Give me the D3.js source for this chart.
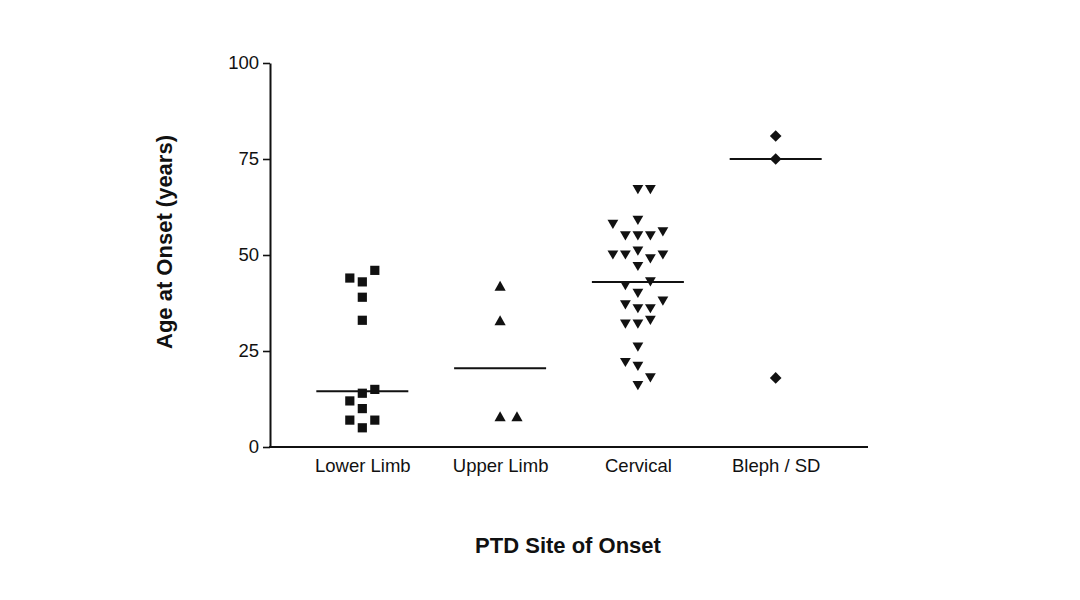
<!DOCTYPE html>
<html>
<head>
<meta charset="utf-8">
<script src="https://cdn.jsdelivr.net/npm/d3@7"></script>
<style>
  html, body { margin: 0; padding: 0; background: #fff; }
  svg { display: block; font-family: "Liberation Sans", Arial, sans-serif; }
</style>
</head>
<body>
<svg id="chart" width="1080" height="600"></svg>
<script>
// ---- data ----
const categories = ["Lower Limb", "Upper Limb", "Cervical", "Bleph / SD"];
const yTicks = [0, 25, 50, 75, 100];

// ages at onset per group, with column slot used for the scatter spread
const lowerLimbAges  = [46, 44, 43, 39, 33, 15, 14, 12, 10, 7, 7, 5];
const lowerLimbSlots = [ 1, -1,  0,  0,  0,  1,  0, -1,  0, -1, 1, 0];

const upperLimbAges  = [42, 33, 8, 8];
const upperLimbSlots = [ 0,  0, 0, 1.35];

const cervicalAges  = [67, 67, 58, 59, 55, 55, 55, 56, 50, 50, 51, 49, 50, 47, 43, 42, 40, 37, 36, 36, 38, 32, 32, 33, 26, 22, 21, 18, 16];
const cervicalSlots = [ 0,  1, -2,  0, -1,  0,  1,  2, -2, -1,  0,  1,  2,  0,  1, -1,  0, -1,  0,  1,  2, -1,  0,  1,  0, -1,  0,  1,  0];

const blephAges  = [81, 75, 18];
const blephSlots = [ 0,  0,  0];

const groups = [
  { name: categories[0], ages: lowerLimbAges, slots: lowerLimbSlots, shape: "square" },
  { name: categories[1], ages: upperLimbAges, slots: upperLimbSlots, shape: "triUp" },
  { name: categories[2], ages: cervicalAges,  slots: cervicalSlots,  shape: "triDown" },
  { name: categories[3], ages: blephAges,     slots: blephSlots,     shape: "diamond" }
];

// ---- layout ----
const svg = d3.select("#chart");
const plotLeft = 270, plotRight = 868, plotTop = 63, plotBottom = 447;

const x = d3.scalePoint().domain(categories).range([plotLeft, plotRight]).padding(0.67);
const y = d3.scaleLinear().domain([0, 100]).range([plotBottom, plotTop]);
const slotScale = d3.scaleLinear().domain([0, 1]).range([0, 12.5]);

// symbol shapes (centered on bounding box)
function shapePath(shape) {
  const p = d3.path();
  if (shape === "square") {
    const h = 4.6;
    p.rect(-h, -h, 2 * h, 2 * h);
  } else if (shape === "triUp") {
    const w = 5.6, h = 5;
    p.moveTo(0, -h); p.lineTo(w, h); p.lineTo(-w, h); p.closePath();
  } else if (shape === "triDown") {
    const w = 5.4, h = 4.6;
    p.moveTo(-w, -h); p.lineTo(w, -h); p.lineTo(0, h); p.closePath();
  } else if (shape === "diamond") {
    const r = 5.8;
    p.moveTo(0, -r); p.lineTo(r, 0); p.lineTo(0, r); p.lineTo(-r, 0); p.closePath();
  }
  return p.toString();
}

// ---- axes ----
const yAxis = d3.axisLeft(y).tickValues(yTicks).tickSize(7).tickSizeOuter(0).tickPadding(4);
const gy = svg.append("g").attr("transform", `translate(${plotLeft},0)`).call(yAxis);
gy.select(".domain").attr("stroke", "#111").attr("stroke-width", 2);
gy.selectAll(".tick line").attr("stroke", "#111").attr("stroke-width", 1.6);
gy.selectAll(".tick text").attr("fill", "#111").attr("font-size", 18.5)
  .attr("font-family", "Liberation Sans, Arial, sans-serif");

const xAxis = d3.axisBottom(x).tickSize(0).tickSizeOuter(0).tickPadding(12);
const gx = svg.append("g").attr("transform", `translate(0,${plotBottom})`).call(xAxis);
gx.select(".domain").attr("stroke", "#111").attr("stroke-width", 2)
  .attr("d", `M${plotLeft - 1},0H${plotRight}`);
gx.selectAll(".tick text").attr("fill", "#111").attr("font-size", 18.5)
  .attr("font-family", "Liberation Sans, Arial, sans-serif");

// ---- points & medians ----
const medianHalf = 46;
groups.forEach(g => {
  const cx = x(g.name);
  const pts = g.ages.map((a, i) => ({ a, s: g.slots[i] }));
  svg.append("g").selectAll("path").data(pts).join("path")
    .attr("d", shapePath(g.shape))
    .attr("transform", d => `translate(${cx + slotScale(d.s)},${y(d.a)})`)
    .attr("fill", "#111");
  const med = d3.median(g.ages);
  svg.append("line")
    .attr("x1", cx - medianHalf).attr("x2", cx + medianHalf)
    .attr("y1", y(med)).attr("y2", y(med))
    .attr("stroke", "#111").attr("stroke-width", 2);
});

// ---- titles ----
svg.append("text")
  .attr("transform", `translate(172,${(plotTop + plotBottom) / 2 - 13}) rotate(-90)`)
  .attr("text-anchor", "middle")
  .attr("font-weight", "bold").attr("font-size", 22).attr("fill", "#111")
  .text("Age at Onset (years)");

svg.append("text")
  .attr("x", 568).attr("y", 553)
  .attr("text-anchor", "middle")
  .attr("font-weight", "bold").attr("font-size", 22).attr("fill", "#111")
  .text("PTD Site of Onset");
</script>
</body>
</html>
